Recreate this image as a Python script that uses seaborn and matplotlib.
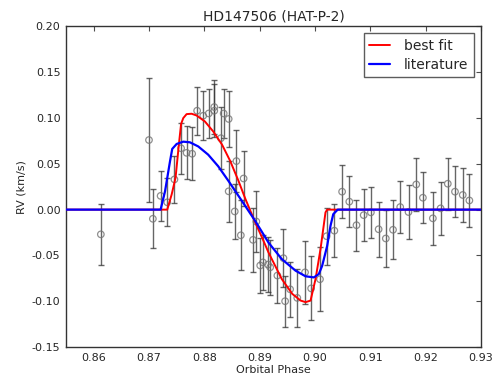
import matplotlib
matplotlib.use("Agg")
import matplotlib.pyplot as plt
import seaborn as sns
import numpy as np

# ---- observed RV data ----
phase = [0.8613, 0.8700, 0.8707, 0.8721, 0.8733, 0.8746, 0.8758, 0.8768, 0.8778,
         0.8787, 0.8798, 0.8808, 0.8818, 0.8818, 0.8830, 0.8835, 0.8844, 0.8844,
         0.8855, 0.8858, 0.8866, 0.8871, 0.8888, 0.8894, 0.8901, 0.8906, 0.8915,
         0.8919, 0.8932, 0.8943, 0.8946, 0.8955, 0.8968, 0.8982, 0.8993, 0.9009,
         0.9021, 0.9035, 0.9049, 0.9062, 0.9075, 0.9088, 0.9101, 0.9115, 0.9128,
         0.9141, 0.9154, 0.9169, 0.9183, 0.9195, 0.9213, 0.9227, 0.9240, 0.9253,
         0.9267, 0.9279]
rv = [-0.027, 0.076, -0.010, 0.015, 0.008, 0.033, 0.067, 0.062, 0.061,
      0.108, 0.1025, 0.105, 0.112, 0.108, 0.078, 0.105, 0.099, 0.020,
      -0.002, 0.053, -0.028, 0.034, -0.033, -0.013, -0.061, -0.0576, -0.060,
      -0.063, -0.072, -0.053, -0.100, -0.087, -0.0964, -0.0685, -0.086, -0.076,
      -0.029, -0.023, 0.0196, 0.0087, -0.017, -0.006, -0.003, -0.0214, -0.0315,
      -0.022, 0.0028, -0.0026, 0.0275, 0.013, -0.0095, 0.0014, 0.0283, 0.0196,
      0.016, 0.010]
rv_err = [0.033, 0.068, 0.032, 0.027, 0.026, 0.026, 0.028, 0.029, 0.029,
          0.026, 0.027, 0.027, 0.029, 0.029, 0.034, 0.027, 0.031, 0.033,
          0.030, 0.034, 0.038, 0.030, 0.035, 0.033, 0.030, 0.030, 0.030,
          0.030, 0.030, 0.032, 0.028, 0.030, 0.032, 0.034, 0.035, 0.035,
          0.031, 0.029, 0.0286, 0.028, 0.028, 0.028, 0.028, 0.030, 0.031,
          0.032, 0.028, 0.029, 0.0285, 0.028, 0.029, 0.029, 0.0285, 0.028,
          0.029, 0.029]

# ---- best fit model curve ----
fit_phase = [0.855, 0.8733, 0.8741, 0.8748, 0.8754, 0.8758, 0.8762, 0.8768, 0.8777,
             0.8786, 0.8801, 0.8816, 0.8832, 0.8847, 0.8862, 0.8874, 0.8892, 0.8904,
             0.8916, 0.8940, 0.8959, 0.8974, 0.8983, 0.8992, 0.9001, 0.9010, 0.9019,
             0.9022, 0.930]
fit_rv = [0.0, 0.0, 0.0166, 0.0348, 0.071, 0.0935, 0.100, 0.1043, 0.1047,
          0.1028, 0.0963, 0.0854, 0.071, 0.0528, 0.031, 0.012, -0.014, -0.030,
          -0.0468, -0.0758, -0.092, -0.0993, -0.101, -0.0993, -0.0758, -0.043, -0.003,
          0.0, 0.0]

# ---- literature model curve ----
lit_phase = [0.855, 0.8721, 0.8729, 0.8738, 0.8742, 0.8750, 0.8762, 0.8774, 0.8789,
             0.8807, 0.8825, 0.8844, 0.8862, 0.8874, 0.8892, 0.8916, 0.8940, 0.8965,
             0.8983, 0.8998, 0.9007, 0.9013, 0.9022, 0.9028, 0.9033, 0.9041, 0.930]
lit_rv = [0.0, 0.0, 0.020, 0.0528, 0.0663, 0.0717, 0.0742, 0.0735, 0.069,
          0.060, 0.0474, 0.031, 0.0148, 0.004, -0.0124, -0.036, -0.054, -0.0667,
          -0.0728, -0.074, -0.0703, -0.0613, -0.0396, -0.0178, -0.005, 0.0, 0.0]

xticks = [0.86, 0.87, 0.88, 0.89, 0.90, 0.91, 0.92, 0.93]
yticks = [-0.15, -0.10, -0.05, 0.00, 0.05, 0.10, 0.15, 0.20]

sns.set_style("white")
plt.rcParams['font.family'] = ['DejaVu Sans']
plt.rcParams['axes.unicode_minus'] = False

fig = plt.figure(figsize=(4.95, 3.78), dpi=100)
ax = fig.add_axes([0.1333, 0.082, 0.8384, 0.848])

ax.errorbar(phase, rv, yerr=rv_err, fmt='none', ecolor='0.2', elinewidth=1.0,
            capsize=2.3, capthick=1.0, alpha=0.75, zorder=2)
sns.scatterplot(x=phase, y=rv, ax=ax, marker='o', s=22, facecolors='none',
                edgecolor='0.45', linewidth=0.9, alpha=0.8, zorder=3, legend=False)

sns.lineplot(x=fit_phase, y=fit_rv, ax=ax, sort=False, estimator=None,
             color='red', linewidth=1.4, label='best fit', zorder=4)
sns.lineplot(x=lit_phase, y=lit_rv, ax=ax, sort=False, estimator=None,
             color='blue', linewidth=1.6, label='literature', zorder=5)

ax.set_xlim(0.855, 0.93)
ax.set_ylim(-0.15, 0.20)
ax.set_xticks(xticks)
ax.set_xticklabels([f"{t:.2f}" for t in xticks])
ax.set_yticks(yticks)
ax.set_yticklabels([f"{t:.2f}" for t in yticks])
ax.tick_params(direction='in', top=True, right=True, length=3.5, width=0.8,
               labelsize=8, pad=4, color='0.3')
for sp in ax.spines.values():
    sp.set_color('0.2')
    sp.set_linewidth(1.0)

ax.set_title("HD147506 (HAT-P-2)", fontsize=10, pad=4)
ax.set_xlabel("Orbital Phase", fontsize=8, labelpad=2)
ax.set_ylabel("RV (km/s)", fontsize=8, labelpad=4)

leg = ax.legend(loc='upper right', fontsize=10, fancybox=False, frameon=True,
                handlelength=1.5, handletextpad=1.0, labelspacing=0.35,
                borderpad=0.4, borderaxespad=0.5)
leg.get_frame().set_edgecolor('0.2')
leg.get_frame().set_linewidth(1.0)

fig.savefig("out.png", dpi=100)
